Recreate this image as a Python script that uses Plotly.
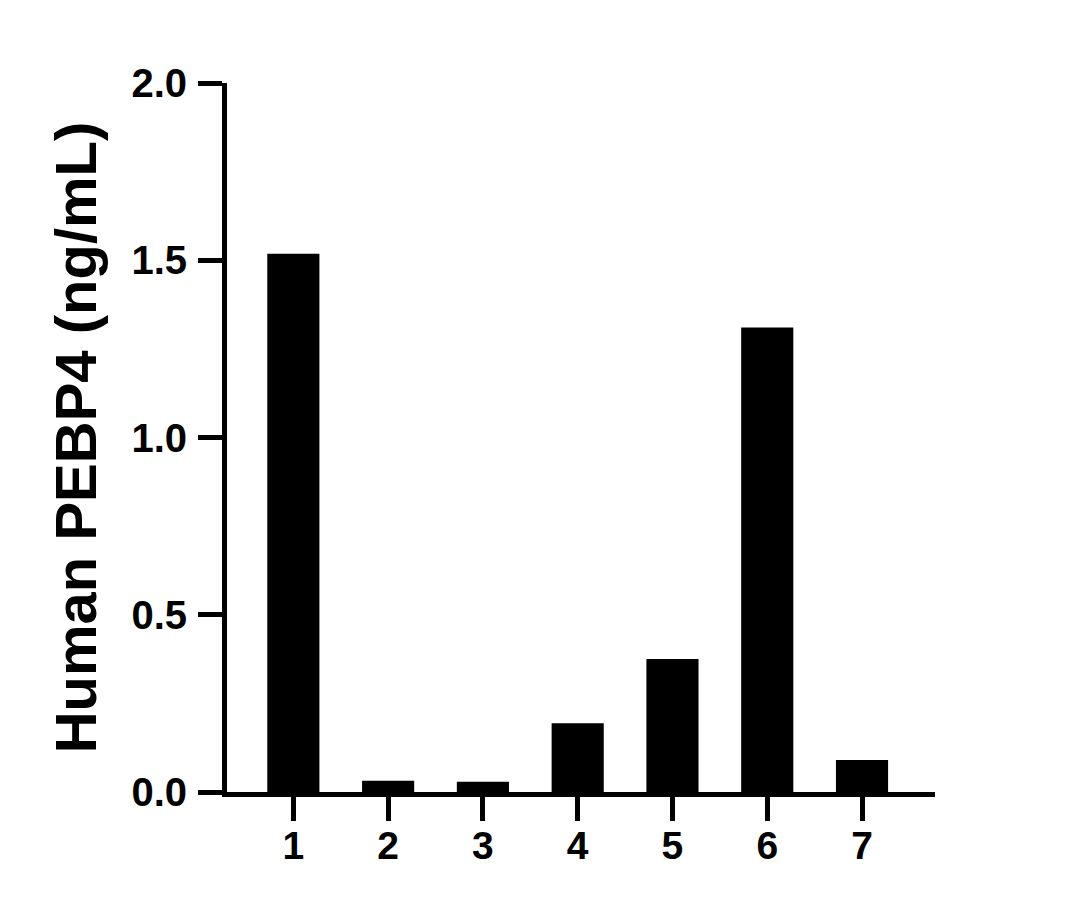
import plotly.graph_objects as go

categories = ["1", "2", "3", "4", "5", "6", "7"]
x_positions = [1, 2, 3, 4, 5, 6, 7]
values = [1.518, 0.032, 0.029, 0.194, 0.375, 1.310, 0.090]
y_ticks = [0.0, 0.5, 1.0, 1.5, 2.0]
y_tick_labels = ["0.0", "0.5", "1.0", "1.5", "2.0"]

FONT = "Liberation Sans, Arial, sans-serif"

fig = go.Figure(go.Bar(
    x=x_positions, y=values, width=0.55,
    marker=dict(color="black", line=dict(width=0)),
))

fig.update_layout(
    width=1067, height=910,
    margin=dict(l=219, r=140, t=75, b=126),
    paper_bgcolor="white", plot_bgcolor="white",
    showlegend=False,
    font=dict(family=FONT, color="black"),
)
fig.update_xaxes(
    range=[0.30, 7.77], tickvals=x_positions, ticktext=categories,
    showline=True, linecolor="black", linewidth=5,
    ticks="outside", ticklen=24, tickwidth=5, tickcolor="black",
    tickfont=dict(family=FONT, size=39, color="black", weight="bold"),
    ticklabelstandoff=-9,
    showgrid=False, zeroline=False,
)
fig.update_yaxes(
    range=[0, 2], tickvals=y_ticks, ticktext=y_tick_labels,
    showline=True, linecolor="black", linewidth=5,
    ticks="outside", ticklen=24, tickwidth=5, tickcolor="black",
    tickfont=dict(family=FONT, size=40, color="black", weight="bold"),
    ticklabelstandoff=3,
    showgrid=False, zeroline=False,
    title=dict(text="Human PEBP4 (ng/mL)",
               font=dict(family=FONT, size=58, color="black", weight="bold"),
               standoff=18),
)

fig.write_html("out.html")
